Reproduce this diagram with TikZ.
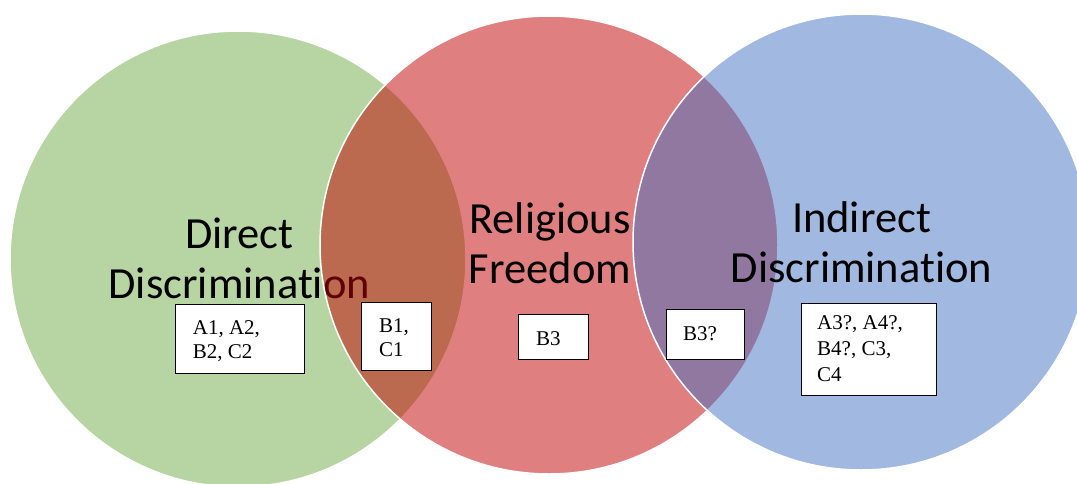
\documentclass[tikz,border=0pt]{standalone}
\usepackage{fontspec}
\newfontfamily\calibrif[Ligatures=NoCommon]{Carlito}
\newfontfamily\timesf{Liberation Serif}
\definecolor{vgreen}{HTML}{70AD47}
\definecolor{vred}{HTML}{C00000}
\definecolor{vblue}{HTML}{4472C4}
\begin{document}
\begin{tikzpicture}[x=1pt,y=-1pt,
  setcircle/.style={fill=#1, fill opacity=0.5, draw=white, line width=1.5pt},
  biglabel/.style={font=\calibrif\fontsize{44.5}{50}\selectfont, align=center, inner sep=0pt, anchor=base},
  entrybox/.style={draw=black, line width=0.8pt, fill=white, inner sep=0pt},
  entrytext/.style={font=\timesf\fontsize{21}{#1}\selectfont, align=left, inner sep=0pt, anchor=base west},
  entrytext/.default=24]
\useasboundingbox (0,0) rectangle (1077,483);
\fill[white] (0,0) rectangle (1077,483);
\clip (0,0) rectangle (1077,483);
% green set and its label (under the red set)
\path[setcircle=vgreen] (238,259) circle[radius=228pt];
\node[biglabel] (dd) at (239.3,298.3) {Direct\\Discrimination};
% red set
\path[setcircle=vred] (549,245) circle[radius=229pt];
\node[biglabel] (rf) at (550,283.3) {Religious\\Freedom};
% blue set
\path[setcircle=vblue] (861,242) circle[radius=228pt];
\node[biglabel] (id) at (861.5,282.3) {Indirect\\Discrimination};
% boxes
\node[entrybox, minimum width=128.3pt, minimum height=69pt] (b1) at (239.85,338.5) {};
\node[entrytext=23.3] (t1) at (192.7,358) {A1, A2,\\B2, C2};
\node[entrybox, minimum width=70pt, minimum height=68pt] (b2) at (396,336) {};
\node[entrytext=24] (t2) at (379,356) {B1,\\C1};
\node[entrybox, minimum width=70pt, minimum height=45pt] (b3) at (553,336.5) {};
\node[entrytext] (t3) at (536,345) {B3};
\node[entrybox, minimum width=78pt, minimum height=50pt] (b4) at (705,334) {};
\node[entrytext] (t4) at (683,340) {B3?};
\node[entrybox, minimum width=135pt, minimum height=92pt] (b5) at (868.5,349) {};
\node[entrytext=25.7] (t5) at (817,381) {A3?, A4?,\\B4?, C3,\\C4};
\end{tikzpicture}
\end{document}
